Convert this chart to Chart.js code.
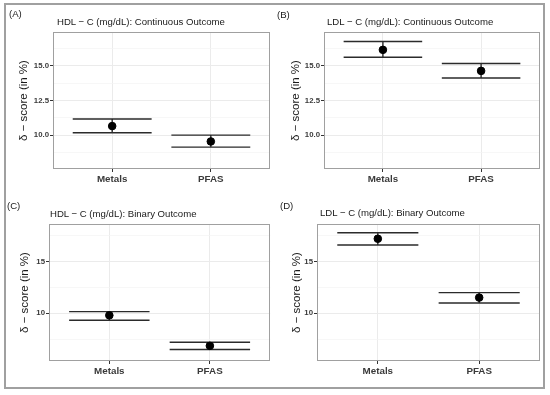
<!DOCTYPE html>
<html>
<head>
<meta charset="utf-8">
<script src="https://cdn.jsdelivr.net/npm/chart.js@4.4.1/dist/chart.umd.min.js"></script>
<style>
  html, body { margin: 0; padding: 0; background: #fff; }
  #fig { position: relative; width: 550px; height: 395px; overflow: hidden; font-family: "Liberation Sans", Arial, sans-serif; }
  #frame { position: absolute; left: 4px; top: 3px; width: 541px; height: 386px; box-sizing: border-box; border: 2px solid #a0a0a0; }
  .panel { position: absolute; width: 275px; height: 195px; }
  .tag, .ttl { position: absolute; font-size: 9.6px; line-height: 12px; color: #1a1a1a; white-space: nowrap; }
</style>
</head>
<body>
<div id="fig">
  <div id="frame"></div>
  <canvas class="panel" id="pA" width="275" height="195" style="left:0;top:0"></canvas>
  <canvas class="panel" id="pB" width="275" height="195" style="left:275px;top:0"></canvas>
  <canvas class="panel" id="pC" width="275" height="195" style="left:0;top:195px"></canvas>
  <canvas class="panel" id="pD" width="275" height="195" style="left:275px;top:195px"></canvas>

  <div class="tag" style="left:9px;top:8px">(A)</div>
  <div class="ttl" style="left:57px;top:16px">HDL − C (mg/dL): Continuous Outcome</div>
  <div class="tag" style="left:277px;top:9px">(B)</div>
  <div class="ttl" style="left:327px;top:16px">LDL − C (mg/dL): Continuous Outcome</div>
  <div class="tag" style="left:7px;top:200px">(C)</div>
  <div class="ttl" style="left:50px;top:208px">HDL − C (mg/dL): Binary Outcome</div>
  <div class="tag" style="left:280px;top:200px">(D)</div>
  <div class="ttl" style="left:320px;top:207px">LDL − C (mg/dL): Binary Outcome</div>
</div>

<script>
// categories and values
const categories = ['Metals', 'PFAS'];

const hdlContEst   = [10.65, 9.54];
const hdlContLower = [10.17, 9.13];
const hdlContUpper = [11.16, 10.0];

const ldlContEst   = [16.16, 14.64];
const ldlContLower = [15.63, 14.13];
const ldlContUpper = [16.76, 15.17];

const hdlBinEst    = [9.80, 6.86];
const hdlBinLower  = [9.33, 6.51];
const hdlBinUpper  = [10.16, 7.21];

const ldlBinEst    = [17.18, 11.51];
const ldlBinLower  = [16.57, 10.99];
const ldlBinUpper  = [17.76, 11.99];

// y tick labels (major) and minor grid positions
const yTicksCont = [10, 12.5, 15];
const yMinorCont = [8.75, 11.25, 13.75, 16.25];
const yTicksBin  = [10, 15];
const yMinorBin  = [7.5, 12.5, 17.5];

const yLabel = 'δ − score (in %)';

// errorbar + panel border drawing, uses the chart's own scales
const errorBars = {
  id: 'errorBars',
  beforeDatasetsDraw(chart) {
    const { ctx, scales: { x, y } } = chart;
    const eb = chart.options.plugins.errorBars;
    ctx.save();
    ctx.strokeStyle = '#2b2b2b';
    ctx.lineWidth = 1.4;
    eb.lower.forEach((lo, i) => {
      const hi = eb.upper[i];
      const xc = x.getPixelForValue(i + 1);
      const x0 = x.getPixelForValue(i + 1 - eb.halfWidth);
      const x1 = x.getPixelForValue(i + 1 + eb.halfWidth);
      const yl = y.getPixelForValue(lo);
      const yh = y.getPixelForValue(hi);
      ctx.beginPath();
      ctx.moveTo(x0, yh); ctx.lineTo(x1, yh);
      ctx.moveTo(x0, yl); ctx.lineTo(x1, yl);
      ctx.moveTo(xc, yl); ctx.lineTo(xc, yh);
      ctx.stroke();
    });
    ctx.restore();
  },
  afterDraw(chart) {
    const { ctx, chartArea: a } = chart;
    ctx.save();
    ctx.strokeStyle = '#a0a0a0';
    ctx.lineWidth = 1;
    ctx.strokeRect(Math.round(a.left) + 0.5, Math.round(a.top) + 0.5,
                   Math.round(a.right - a.left) - 1, Math.round(a.bottom - a.top) - 1);
    ctx.restore();
  }
};

function makePanel(id, est, lower, upper, yMin, yMax, majors, minors, box, decimals) {
  const W = 275, H = 195;
  new Chart(document.getElementById(id), {
    type: 'scatter',
    data: {
      datasets: [{
        data: categories.map((c, i) => ({ x: i + 1, y: est[i] })),
        backgroundColor: '#000',
        borderColor: '#000',
        pointRadius: 3.8,
        pointHoverRadius: 3.8,
      }]
    },
    options: {
      responsive: false,
      animation: false,
      devicePixelRatio: 1,
      layout: { padding: { left: 0, top: box.top, right: W - box.right, bottom: 0 } },
      plugins: {
        legend: { display: false },
        tooltip: { enabled: false },
        errorBars: { lower, upper, halfWidth: 0.4 },
      },
      scales: {
        x: {
          type: 'linear',
          min: 0.4, max: 2.6,
          afterBuildTicks: s => { s.ticks = categories.map((c, i) => ({ value: i + 1 })); },
          afterFit: s => { s.height = H - box.bottom; },
          border: { display: false },
          grid: { color: '#ebebeb', lineWidth: 1, tickColor: '#333', tickLength: 3 },
          ticks: {
            callback: v => categories[v - 1],
            color: '#3a3a3a',
            padding: 1,
            maxRotation: 0,
            font: { family: '"Liberation Sans", Arial, sans-serif', size: 9.8, weight: 'bold' },
          },
        },
        y: {
          min: yMin, max: yMax,
          afterBuildTicks: s => {
            s.ticks = [...minors, ...majors].sort((a, b) => a - b).map(v => ({ value: v }));
          },
          afterFit: s => { s.width = box.left; },
          border: { display: false },
          grid: {
            color: c => majors.includes(c.tick.value) ? '#ebebeb' : '#f4f4f4',
            lineWidth: c => majors.includes(c.tick.value) ? 1 : 0.7,
            tickColor: c => majors.includes(c.tick.value) ? '#333' : 'rgba(0,0,0,0)',
            tickLength: 3,
          },
          ticks: {
            callback: v => majors.includes(v) ? v.toFixed(decimals) : '',
            color: '#3a3a3a',
            padding: 1,
            autoSkip: false,
            font: { family: '"Liberation Sans", Arial, sans-serif', size: 7.8, weight: 'bold' },
          },
          title: {
            display: true,
            text: yLabel,
            color: '#1a1a1a',
            font: { family: '"Liberation Sans", Arial, sans-serif', size: 11.5 },
            padding: { top: box.titleX - 6.9, bottom: 0 },
          },
        },
      },
    },
    plugins: [errorBars],
  });
}

makePanel('pA', hdlContEst, hdlContLower, hdlContUpper, 7.55, 17.45, yTicksCont, yMinorCont,
          { left: 53, top: 32, right: 270, bottom: 169, titleX: 24 }, 1);
makePanel('pB', ldlContEst, ldlContLower, ldlContUpper, 7.55, 17.45, yTicksCont, yMinorCont,
          { left: 49, top: 32, right: 265, bottom: 169, titleX: 21 }, 1);
makePanel('pC', hdlBinEst, hdlBinLower, hdlBinUpper, 5.4, 18.6, yTicksBin, yMinorBin,
          { left: 49, top: 29, right: 271, bottom: 166, titleX: 25 }, 0);
makePanel('pD', ldlBinEst, ldlBinLower, ldlBinUpper, 5.4, 18.6, yTicksBin, yMinorBin,
          { left: 42, top: 29, right: 265, bottom: 166, titleX: 22 }, 0);
</script>
</body>
</html>
